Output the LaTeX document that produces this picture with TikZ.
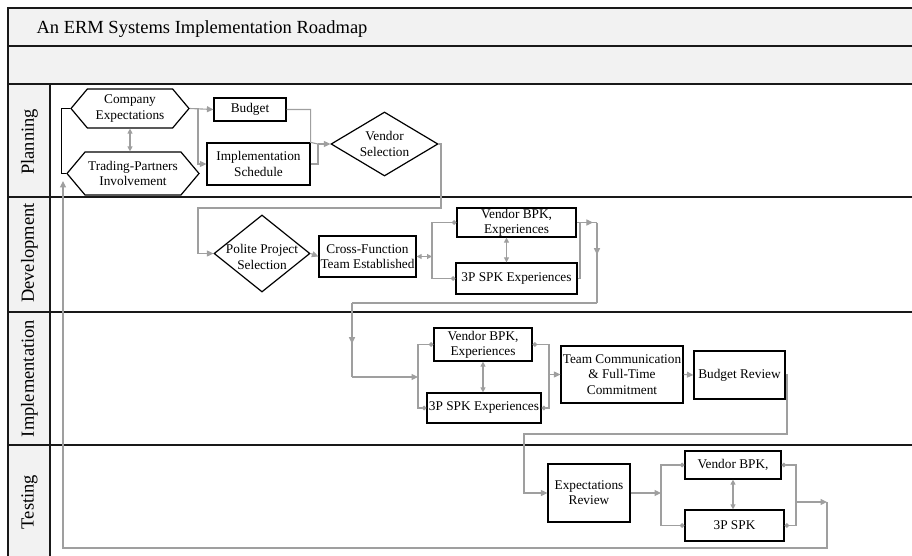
\documentclass[tikz,border=0pt]{standalone}
\usepackage{fontspec}
\setmainfont{Liberation Serif}
\usetikzlibrary{shapes.geometric, shapes.symbols, arrows.meta, decorations.markings}
\definecolor{hdrgray}{HTML}{F2F2F2}

\begin{document}
\begin{tikzpicture}[x=1pt, y=-1pt,
    box/.style={draw=black, line width=1.2pt, fill=white, inner sep=0pt, align=center, font=\fontsize{13.3}{15.3}\selectfont},
    hexa/.style={box, shape=signal, signal to=west and east, signal pointer angle=100},
    dia/.style={draw=black, line width=1.2pt, fill=white, shape=diamond, inner sep=0pt},
    txt/.style={inner sep=0pt, align=center, font=\fontsize{13.3}{15.3}\selectfont},
    lane/.style={font=\fontsize{18.5}{20}\selectfont, rotate=90},
    frame/.style={black!90, line width=1.8pt},
    con/.style={gray!75, line width=1.1pt},
    arr/.style={con, -{Triangle[length=6.5pt, width=6pt]}},
    darr/.style={con, {Triangle[length=5pt, width=5pt]}-{Triangle[length=5pt, width=5pt]}},
    dot/.style={con, -{Circle[length=4.5pt]}},
    marr/.style={postaction={decorate}, decoration={markings, mark=at position #1 with {\arrow{Triangle[length=6.5pt, width=6pt]}}}}]
    \useasboundingbox (0,0) rectangle (912,556);

    % 1. 表头与泳道
    \fill[hdrgray] (8,8) rectangle (912,84);
    \fill[hdrgray] (8,84) rectangle (50,556);
    \draw[frame] (912,8) -- (8,8) -- (8,556);
    \draw[frame] (8,46) -- (912,46);
    \draw[frame] (8,84) -- (912,84);
    \draw[frame] (50,84) -- (50,556);
    \foreach \y in {197,312,445} \draw[frame] (8,\y) -- (912,\y);

    \node[anchor=base west, font=\fontsize{18.5}{20}\selectfont] (title) at (33,33.5) {An ERM Systems Implementation Roadmap};
    \node[lane] (lplan) at (29.5,142) {Planning};
    \node[lane] (ldev) at (29.5,253) {Development};
    \node[lane] (limp) at (29.5,378.5) {Implementation};
    \node[lane] (ltest) at (29.5,502) {Testing};

    % 2. Planning
    \node[hexa, minimum width=118pt, minimum height=39pt] (ce) at (130,108.5) {Company\\Expectations};
    \node[hexa, minimum width=132pt, minimum height=43pt] (tp) at (133,173.5) {Trading-Partners\\Involvement};
    \node[box, minimum width=72pt, minimum height=23pt] (budget) at (250,109.5) {Budget};
    \node[box, minimum width=103pt, minimum height=42pt] (isch) at (258.5,164) {Implementation\\Schedule};
    \node[dia, minimum width=107pt, minimum height=64pt] (vs) at (384.5,144) {};
    \node[txt] (vst) at (vs) {Vendor\\Selection};

    % 3. Development
    \node[dia, minimum width=96pt, minimum height=77pt] (pps) at (262,253.5) {};
    \node[txt] (ppst) at (262,257) {Polite Project\\Selection};
    \node[box, minimum width=97pt, minimum height=41pt] (cfte) at (367.5,256.5) {Cross-Function\\Team Established};
    \node[box, minimum width=119pt, minimum height=29pt] (dvbpk) at (516.5,222.5) {Vendor BPK,\\Experiences};
    \node[box, minimum width=121pt, minimum height=31pt] (dsp) at (516.5,278.5) {3P SPK Experiences};

    % 4. Implementation
    \node[box, minimum width=98pt, minimum height=33pt] (ivbpk) at (483,344.5) {Vendor BPK,\\Experiences};
    \node[box, minimum width=114pt, minimum height=30pt] (isp) at (484,408) {3P SPK Experiences};
    \node[box, minimum width=122pt, minimum height=57pt] (tcom) at (622,374.5) {Team Communication\\\& Full-Time\\Commitment};
    \node[box, minimum width=91pt, minimum height=48pt] (brev) at (739.5,375) {Budget Review};

    % 5. Testing
    \node[box, minimum width=82pt, minimum height=58pt] (erev) at (589,493) {Expectations\\Review};
    \node[box, minimum width=96pt, minimum height=28pt] (tvbpk) at (733,465) {Vendor BPK,};
    \node[box, minimum width=99pt, minimum height=31pt] (tsp) at (734.5,525.5) {3P SPK};

    % 6. 连线
    \coordinate (p0) at (61,108.5);
    \coordinate (p1) at (198,108.5);
    \coordinate (p2) at (318,144);
    \draw[line width=1pt] (ce.west) -- (p0) |- (tp.west);
    \draw[darr] (ce.south) -- (ce.south |- tp.north);
    \draw[arr] (ce.east) -- (budget.west);
    \draw[arr] (p1) |- (isch.west);
    \draw[con] (budget.east) -| (isch.north east) -- (p2);
    \draw[con] (isch.east) -| (p2);
    \draw[arr] (p2) -- (vs.west);

    \coordinate (d1) at (441,208);
    \coordinate (d2) at (198,208);
    \coordinate (d3) at (432,256.5);
    \coordinate (d4) at (580,222.5);
    \coordinate (d5) at (597,222.5);
    \coordinate (d6) at (597,303);
    \coordinate (d7) at (352,303);
    \coordinate (d8) at (352,377);
    \draw[arr] (vs.east) -| (d1) -- (d2) |- (pps.west);
    \draw[arr] (pps.east) -- (cfte.west);
    \draw[darr] (cfte.east) -- (d3);
    \draw[dot] (d3) |- (dvbpk.west);
    \draw[dot] (d3) |- (dsp.west);
    \draw[darr] ([xshift=-10pt]dvbpk.south) -- ([xshift=-10pt]dsp.north);
    \draw[con, marr=0.8] (dvbpk.east) -- (d5);
    \draw[con] (dsp.east) -| (d4);
    \draw[con, marr=0.4] (d5) -- (d6);
    \draw[con] (d6) -- (d7);
    \draw[con, marr=0.55] (d7) -- (d8);

    \coordinate (i1) at (418,377);
    \coordinate (i2) at (549,374.5);
    \coordinate (i3) at (787,434);
    \coordinate (i4) at (524,434);
    \draw[arr] (d8) -- (i1);
    \draw[dot] (i1) |- (ivbpk.west);
    \draw[dot] (i1) |- (isp.west);
    \draw[darr] (ivbpk.south) -- (ivbpk.south |- isp.north);
    \draw[dot] (i2) |- (ivbpk.east);
    \draw[dot] (i2) |- (isp.east);
    \draw[arr] (i2) -- (tcom.west);
    \draw[arr] (tcom.east) -- (brev.west);
    \draw[arr] (brev.east) -| (i3) -- (i4) |- (erev.west);

    \coordinate (t1) at (661,493);
    \coordinate (t2) at (796,502);
    \coordinate (t3) at (827,502);
    \coordinate (t4) at (827,548);
    \coordinate (t5) at (63,548);
    \coordinate (t6) at (63,181);
    \draw[arr] (erev.east) -- (t1);
    \draw[dot] (t1) |- (tvbpk.west);
    \draw[dot] (t1) |- (tsp.west);
    \draw[darr] (tvbpk.south) -- (tvbpk.south |- tsp.north);
    \draw[dot] (t2) |- (tvbpk.east);
    \draw[dot] (t2) |- (tsp.east);
    \draw[arr] (t2) -- (t3);
    \draw[arr] (t3) -- (t4) -- (t5) -- (t6);
\end{tikzpicture}
\end{document}
